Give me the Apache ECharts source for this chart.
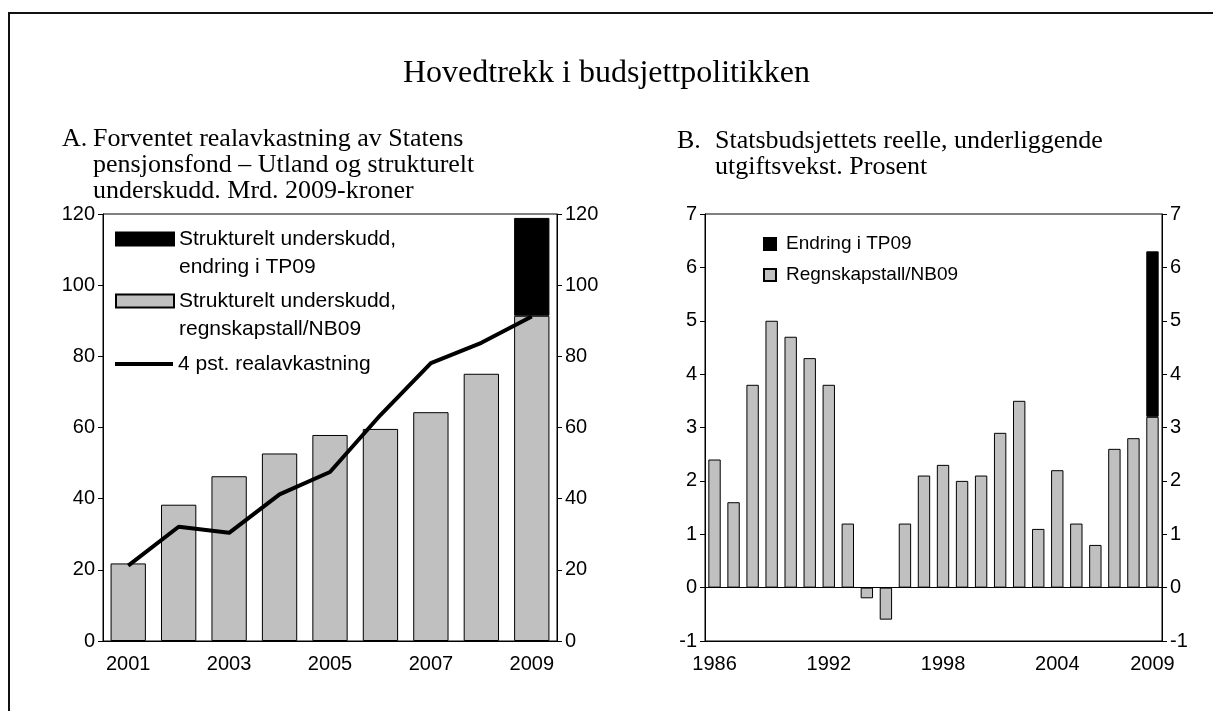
<!DOCTYPE html>
<html>
<head>
<meta charset="utf-8">
<script src="https://cdn.jsdelivr.net/npm/echarts@6/dist/echarts.min.js"></script>
<style>
  html, body { margin: 0; padding: 0; background: #fff; }
  #chart { width: 1213px; height: 711px; }
</style>
</head>
<body>
<div id="chart"></div>
<script>
// Panel A: structural deficit and 4 % real return, bn 2009-NOK
const yearsA = ['2001', '2002', '2003', '2004', '2005', '2006', '2007', '2008', '2009']
const underskuddA = [21.8, 38.3, 46.3, 52.7, 57.9, 59.6, 64.3, 75.1, 91.4]
const endringA = ['-', '-', '-', '-', '-', '-', '-', '-', 27.5]
const realavkastningA = [21.2, 32.1, 30.4, 41.2, 47.5, 63.5, 78.1, 83.8, 91.2]

// Panel B: real underlying growth in spending, per cent
const yearsB = ['1986', '1987', '1988', '1989', '1990', '1991', '1992', '1993', '1994', '1995', '1996', '1997',
  '1998', '1999', '2000', '2001', '2002', '2003', '2004', '2005', '2006', '2007', '2008', '2009']
const regnskapB = [2.4, 1.6, 3.8, 5.0, 4.7, 4.3, 3.8, 1.2, -0.2, -0.6, 1.2, 2.1,
  2.3, 2.0, 2.1, 2.9, 3.5, 1.1, 2.2, 1.2, 0.8, 2.6, 2.8, 3.2]
const endringB = ['-', '-', '-', '-', '-', '-', '-', '-', '-', '-', '-', '-',
  '-', '-', '-', '-', '-', '-', '-', '-', '-', '-', '-', 3.1]

const GRAY = '#c0c0c0'
const SANS = 'Liberation Sans, Arial, sans-serif'
const SERIF = 'Liberation Serif, Times New Roman, serif'

const chart = echarts.init(document.getElementById('chart'))

// felles akseoppsett
function yAxis(gridIndex, position, min, max, interval) {
  return {
    type: 'value',
    gridIndex: gridIndex,
    position: position,
    min: min,
    max: max,
    interval: interval,
    splitLine: { show: false },
    axisLine: { show: true, lineStyle: { color: '#000', width: 1 } },
    axisTick: { show: true, length: 5, lineStyle: { color: '#000' } },
    axisLabel: { color: '#000', fontFamily: SANS, fontSize: 20, margin: 8 }
  }
}

const legendText = { color: '#000', fontFamily: SANS, fontSize: 21, lineHeight: 28 }
const serifTitle = { fontFamily: SERIF, fontSize: 26, fontWeight: 'normal', color: '#000', lineHeight: 26 }

// tom første linje gjør at ikonet havner midt på første tekstlinje
const twoLine = (name) => '\n' + name.replace(', ', ',\n')

const option = {
  backgroundColor: '#fff',
  animation: false,
  title: [
    {
      text: 'Hovedtrekk i budsjettpolitikken',
      left: 'center',
      top: 53,
      textStyle: { fontFamily: SERIF, fontSize: 32, fontWeight: 'normal', color: '#000' }
    },
    { text: 'A.', left: 62, top: 126, padding: 0, textStyle: serifTitle },
    {
      text: 'Forventet realavkastning av Statens\npensjonsfond – Utland og strukturelt\nunderskudd. Mrd. 2009-kroner',
      left: 93, top: 126, padding: 0, textStyle: serifTitle
    },
    { text: 'B.', left: 677, top: 128, padding: 0, textStyle: serifTitle },
    {
      text: 'Statsbudsjettets reelle, underliggende\nutgiftsvekst. Prosent',
      left: 715, top: 128, padding: 0, textStyle: serifTitle
    }
  ],
  legend: [
    {
      data: ['Strukturelt underskudd, endring i TP09'],
      left: 115,
      top: 197,
      padding: 0,
      icon: 'rect',
      itemWidth: 58,
      itemHeight: 13,
      selectedMode: false,
      formatter: twoLine,
      textStyle: legendText
    },
    {
      data: ['Strukturelt underskudd, regnskapstall/NB09'],
      left: 115,
      top: 259,
      padding: 0,
      icon: 'rect',
      itemWidth: 58,
      itemHeight: 13,
      selectedMode: false,
      formatter: twoLine,
      textStyle: legendText
    },
    {
      data: ['4 pst. realavkastning'],
      left: 115,
      top: 350,
      padding: 0,
      icon: 'rect',
      itemWidth: 58,
      itemHeight: 4,
      selectedMode: false,
      textStyle: legendText
    },
    {
      data: ['Endring i TP09', 'Regnskapstall/NB09'],
      orient: 'vertical',
      left: 763,
      top: 234,
      padding: 0,
      icon: 'rect',
      itemWidth: 12,
      itemHeight: 12,
      itemGap: 11,
      selectedMode: false,
      textStyle: { color: '#000', fontFamily: SANS, fontSize: 19, lineHeight: 20, padding: [0, 0, 0, 5] }
    }
  ],
  grid: [
    { left: 103, right: 656, top: 214, bottom: 70, show: true, borderColor: '#000', borderWidth: 1, backgroundColor: 'transparent' },
    { left: 705, right: 51, top: 214, bottom: 70, show: true, borderColor: '#000', borderWidth: 1, backgroundColor: 'transparent' }
  ],
  xAxis: [
    {
      type: 'category',
      gridIndex: 0,
      data: yearsA,
      axisLine: { lineStyle: { color: '#000' } },
      axisTick: { interval: 0, length: 5, lineStyle: { color: '#000' } },
      axisLabel: { interval: 1, color: '#000', fontFamily: SANS, fontSize: 20, margin: 13 }
    },
    {
      type: 'category',
      gridIndex: 1,
      data: yearsB,
      axisLine: { onZero: false, lineStyle: { color: '#000' } },
      axisTick: { interval: (i) => i % 6 === 0, length: 5, lineStyle: { color: '#000' } },
      axisLabel: {
        interval: (i) => i % 6 === 0 || i === yearsB.length - 1,
        color: '#000', fontFamily: SANS, fontSize: 20, margin: 13
      }
    }
  ],
  yAxis: [
    yAxis(0, 'left', 0, 120, 20),
    yAxis(0, 'right', 0, 120, 20),
    yAxis(1, 'left', -1, 7, 1),
    yAxis(1, 'right', -1, 7, 1)
  ],
  series: [
    {
      name: 'Strukturelt underskudd, regnskapstall/NB09',
      type: 'bar',
      xAxisIndex: 0,
      yAxisIndex: 0,
      stack: 'a',
      barCategoryGap: '30%',
      data: underskuddA,
      itemStyle: { color: GRAY, borderColor: '#000', borderWidth: 1 }
    },
    {
      name: 'Strukturelt underskudd, endring i TP09',
      type: 'bar',
      xAxisIndex: 0,
      yAxisIndex: 0,
      stack: 'a',
      data: endringA,
      itemStyle: { color: '#000', borderColor: '#000', borderWidth: 1 }
    },
    {
      name: '4 pst. realavkastning',
      type: 'line',
      xAxisIndex: 0,
      yAxisIndex: 0,
      symbol: 'none',
      data: realavkastningA,
      lineStyle: { color: '#000', width: 4, join: 'round' },
      itemStyle: { color: '#000' },
      z: 5
    },
    {
      name: 'Regnskapstall/NB09',
      type: 'bar',
      xAxisIndex: 1,
      yAxisIndex: 2,
      stack: 'b',
      barCategoryGap: '35%',
      data: regnskapB,
      itemStyle: { color: GRAY, borderColor: '#000', borderWidth: 1 },
      markLine: {
        silent: true,
        symbol: 'none',
        label: { show: false },
        lineStyle: { color: '#000', width: 1, type: 'solid' },
        data: [{ yAxis: 0 }]
      }
    },
    {
      name: 'Endring i TP09',
      type: 'bar',
      xAxisIndex: 1,
      yAxisIndex: 2,
      stack: 'b',
      data: endringB,
      itemStyle: { color: '#000', borderColor: '#000', borderWidth: 1 }
    }
  ],
  // ramme rundt figuren (kun topp og venstre synlig)
  graphic: [
    {
      type: 'polyline',
      shape: { points: [[9, 711], [9, 13], [1213, 13]] },
      style: { stroke: '#111', lineWidth: 2, fill: null }
    }
  ]
}

chart.setOption(option)
</script>
</body>
</html>
